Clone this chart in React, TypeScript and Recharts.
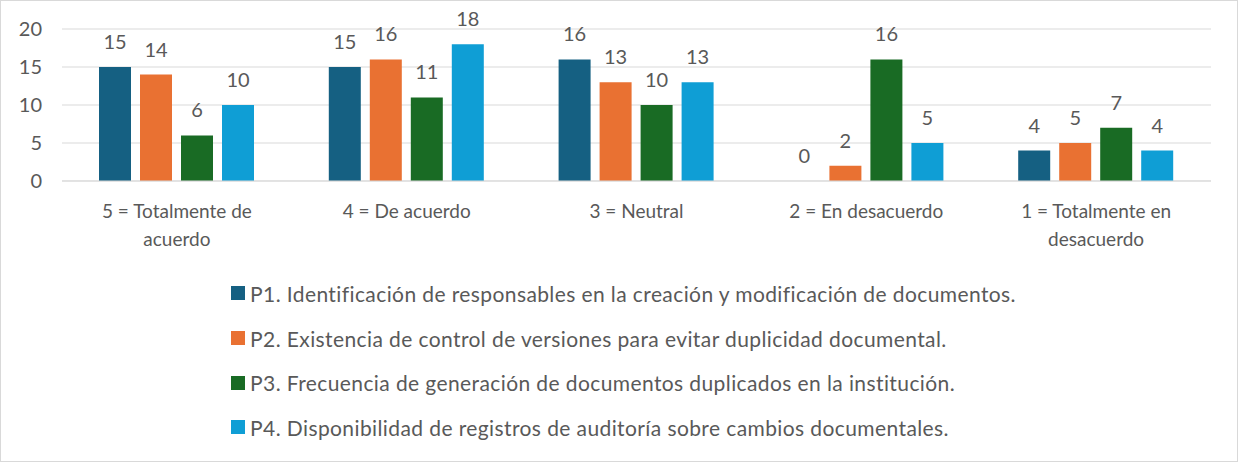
import React from "react";
import { BarChart, Bar, XAxis, YAxis, CartesianGrid, Legend, LabelList } from "recharts";

// category labels as they wrap in the original
const categoryLines = [
  ["5 = Totalmente de", "acuerdo"],
  ["4 = De acuerdo"],
  ["3 = Neutral"],
  ["2 = En desacuerdo"],
  ["1 = Totalmente en", "desacuerdo"],
];
const categories = categoryLines.map((l) => l.join(" "));

const p1 = [15, 15, 16, 0, 4];
const p2 = [14, 16, 13, 2, 5];
const p3 = [6, 11, 10, 16, 7];
const p4 = [10, 18, 13, 5, 4];

const seriesNames = [
  "P1. Identificación de responsables en la creación y modificación de documentos.",
  "P2. Existencia de control de versiones para evitar duplicidad documental.",
  "P3. Frecuencia de generación de documentos duplicados en la institución.",
  "P4. Disponibilidad de registros de auditoría sobre cambios documentales.",
];
const colors = ["#156082", "#E97132", "#196B24", "#0F9ED5"];
const yTicks = [0, 5, 10, 15, 20];

const data = categories.map((c, i) => ({ name: c, p1: p1[i], p2: p2[i], p3: p3[i], p4: p4[i] }));
const keys = ["p1", "p2", "p3", "p4"];

const FONT = "Lato, 'Noto Sans', sans-serif";
const TEXT = "#595959";

const CategoryTick = ({ x, y, index }: any) => {
  const lines = categoryLines[index] || [];
  return (
    <text x={x} y={y} textAnchor="middle" fill={TEXT} fontSize={19} fontFamily={FONT}>
      {lines.map((ln, i) => (
        <tspan key={i} x={x} y={y + 37 + i * 28}>
          {ln}
        </tspan>
      ))}
    </text>
  );
};

// value label drawn by hand so that zero bars still get their "0"
const ValueLabel = (props: any) => {
  const { x, y, width, value } = props;
  if (value == null) return null;
  return (
    <text x={x + width / 2} y={y - 18} textAnchor="middle" fill={TEXT} fontSize={20} fontFamily={FONT}>
      {String(value)}
    </text>
  );
};

const LegendBox = () => (
  <div style={{ textAlign: "center", paddingLeft: 9 }}>
    <div style={{ display: "inline-block", textAlign: "left" }}>
      {seriesNames.map((n, i) => (
        <div key={i} style={{ height: 44.7, display: "flex", alignItems: "center", fontFamily: FONT, fontSize: 21, letterSpacing: 0.4, color: TEXT, whiteSpace: "nowrap" }}>
          <span style={{ display: "inline-block", width: 14, height: 14, background: colors[i], marginRight: 5 }} />
          {n}
        </div>
      ))}
    </div>
  </div>
);

// zero bars keep a hairline height so their label is still placed
const zeroMin = (v: any) => (v === 0 ? 0.01 : 0);

export default function App() {
  return (
    <div style={{ width: 1238, height: 462, boxSizing: "border-box", border: "1px solid #d9d9d9", background: "#fff" }}>
      <style>{`body{margin:0}`}</style>
      <BarChart
        width={1236}
        height={460}
        data={data}
        margin={{ top: 28, right: 26, left: 0, bottom: 250 }}
        barSize={32}
        barGap={9}
      >
        <CartesianGrid vertical={false} stroke="#d9d9d9" />
        <XAxis
          dataKey="name"
          height={30}
          axisLine={{ stroke: "#d9d9d9" }}
          tickLine={false}
          tickSize={0}
          tickMargin={0}
          interval={0}
          tick={<CategoryTick />}
        />
        <YAxis
          domain={[0, 20]}
          ticks={yTicks}
          width={61}
          axisLine={false}
          tickLine={false}
          tickSize={0}
          tickMargin={20}
          tick={{ fill: TEXT, fontSize: 20, fontFamily: FONT }}
        />
        <Legend
          layout="vertical"
          align="center"
          verticalAlign="middle"
          wrapperStyle={{ top: 270, left: 0, width: 1236 }}
          content={<LegendBox />}
        />
        {keys.map((k, i) => (
          <Bar key={k} dataKey={k} name={seriesNames[i]} fill={colors[i]} minPointSize={zeroMin} isAnimationActive={false}>
            <LabelList dataKey={k} content={<ValueLabel />} />
          </Bar>
        ))}
      </BarChart>
    </div>
  );
}
